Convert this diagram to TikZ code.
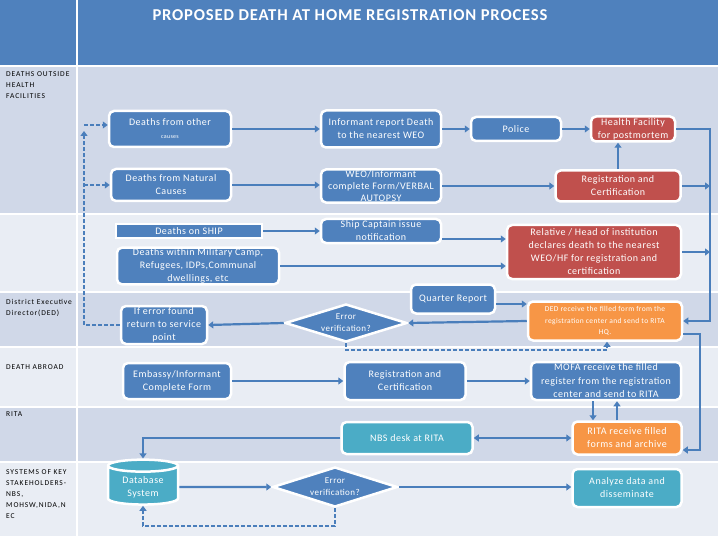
\documentclass[tikz,border=0pt]{standalone}
\usepackage{fontspec}
\setmainfont{Carlito}[LetterSpace=5]
\usetikzlibrary{arrows.meta,shapes.geometric}
\definecolor{hdrblue}{HTML}{4F81BD}
\definecolor{boxblue}{HTML}{4F81BD}
\definecolor{boxred}{HTML}{C0504D}
\definecolor{boxorange}{HTML}{F79646}
\definecolor{boxteal}{HTML}{4BACC6}
\definecolor{lanedark}{HTML}{D0D8E8}
\definecolor{lanelight}{HTML}{E9EDF4}
\definecolor{linkblue}{HTML}{4A7EBB}
\begin{document}
\begin{tikzpicture}[x=1pt, y=-1pt,
    >={Triangle[width=7pt,length=5pt]},
    box/.style={rectangle, rounded corners=5pt, draw=white, line width=2.5pt, fill=#1, text=white, align=center, inner sep=1pt, font=\fontsize{10}{13}\selectfont},
    box/.default=boxblue,
    decision/.style={diamond, aspect=3.2, draw=white, line width=2.5pt, fill=boxblue, text=white, align=center, inner sep=0pt, font=\fontsize{9}{12}\selectfont},
    lane/.style={font=\fontsize{7.5}{11}\selectfont\addfontfeatures{LetterSpace=12}, anchor=north west, align=left, inner sep=0pt},
    link/.style={draw=linkblue, line width=2.2pt, ->},
    back/.style={link, dash pattern=on 4pt off 2pt}
]
    \useasboundingbox (0,0) rectangle (720,540);
    \fill[white] (0,0) rectangle (720,540);

    % Capcalera
    \fill[hdrblue] (0,0) rectangle (76,65);
    \fill[hdrblue] (78,0) rectangle (718,65);
    \node[font=\bfseries\fontsize{16.6}{18}\selectfont, text=white] (title) at (350,15) {PROPOSED DEATH AT HOME REGISTRATION PROCESS};

    % Franges
    \foreach \top/\bot/\col in {67/213/lanedark, 215/291/lanelight, 293/346/lanedark, 348/406/lanelight, 408/461/lanedark, 463/536/lanelight} {
        \fill[\col] (0,\top) rectangle (76,\bot);
        \fill[\col] (78,\top) rectangle (718,\bot);
    }
    \node[lane] (lhome) at (6,71) {DEATHS OUTSIDE\\HEALTH\\FACILITIES};
    \node[lane] (lded) at (6,299) {District Executive\\Director(DED)};
    \node[lane] (labroad) at (6,364) {DEATH ABROAD};
    \node[lane] (lrita) at (6,411) {RITA};
    \node[lane] (lsys) at (6,469) {SYSTEMS OF KEY\\STAKEHOLDERS-\\NBS,\\MOHSW,NIDA,N\\EC};

    % Morts fora de centres
    \node[box, minimum width=122pt, minimum height=36pt] (other) at (170,129) {Deaths from other\\{\fontsize{6}{7}\selectfont causes}};
    \node[box, minimum width=120pt, minimum height=32pt] (natural) at (171,185) {Deaths from Natural\\Causes};
    \node[box, rounded corners=0pt, line width=2pt, minimum width=146pt, minimum height=13pt] (ship) at (189,231) {Deaths on SHIP};
    \node[box, minimum width=162pt, minimum height=35pt] (military) at (198,266) {Deaths within Military Camp,\\Refugees, IDPs,Communal\\dwellings, etc};
    \node[box, minimum width=120pt, minimum height=37pt] (informant) at (381,129) {Informant report Death\\to the nearest WEO};
    \node[box, minimum width=120pt, minimum height=33pt, font=\fontsize{10}{12}\selectfont] (weo) at (381,186) {WEO/Informant\\complete Form/VERBAL\\AUTOPSY};
    \node[box, minimum width=120pt, minimum height=24pt] (captain) at (381,231) {Ship Captain issue\\notification};
    \node[box, minimum width=90pt, minimum height=24pt] (police) at (516,129) {Police};
    \node[box=boxred, minimum width=84pt, minimum height=25pt] (hf) at (633,129) {Health Facility\\for postmortem};
    \node[box=boxred, minimum width=125pt, minimum height=31pt] (regred) at (618,186) {Registration and\\Certification};
    \node[box=boxred, minimum width=174pt, minimum height=54pt] (relative) at (594,252) {Relative / Head of institution\\declares death to the nearest\\WEO/HF for registration and\\certification};

    % DED
    \node[box, minimum width=84pt, minimum height=29pt] (quarter) at (453,299) {Quarter Report};
    \node[box=boxorange, minimum width=154pt, minimum height=39pt, font=\fontsize{7.5}{11.5}\selectfont] (ded) at (605,321) {DED receive the filled form from the\\registration center and send to RITA\\HQ.};
    \node[decision, minimum width=122pt, minimum height=38pt] (errded) at (346,323) {Error\\verification?};
    \node[box, minimum width=86pt, minimum height=38pt] (iferr) at (164,325) {If error found\\return to service\\point};

    % Morts a l'estranger
    \node[box, minimum width=108pt, minimum height=36pt] (embassy) at (177,381) {Embassy/Informant\\Complete Form};
    \node[box, minimum width=121pt, minimum height=38pt] (regblue) at (405,381) {Registration and\\Certification};
    \node[box, minimum width=150pt, minimum height=38pt, font=\fontsize{10}{13.5}\selectfont] (mofa) at (606,381) {MOFA receive the filled\\register from the registration\\center and send to RITA};

    % RITA
    \node[box=boxteal, minimum width=131pt, minimum height=32pt] (nbs) at (407,438) {NBS desk at RITA};
    \node[box=boxorange, minimum width=109pt, minimum height=33pt] (ritarec) at (627,438) {RITA receive filled\\forms and archive};

    % Sistemes
    \node[cylinder, shape border rotate=90, aspect=0.25, draw=white, line width=2.5pt, fill=boxteal, text=white, align=center, minimum width=70pt, minimum height=44pt, font=\fontsize{10}{13}\selectfont] (db) at (143,487) {Database\\System};
    \node[decision, minimum width=125pt, minimum height=40pt] (errsys) at (335,487) {Error\\verification?};
    \node[box=boxteal, minimum width=109pt, minimum height=38pt] (analyze) at (627,488) {Analyze data and\\disseminate};

    % Connexions
    \coordinate (bus) at (710,129);
    \coordinate (busded) at (700,335);
    \coordinate (ret) at (84,131);
    \coordinate (dedout) at ([yshift=-13pt]ded.east);
    \coordinate (ritain) at ([yshift=-12pt]ritarec.east);
    \draw[link] (other.east) -- (informant.west);
    \draw[link] (natural.east) -- (natural.east -| weo.west);
    \draw[link] (ship.east) -- (captain.west);
    \draw[link] (military.east) -- (military.east -| relative.west);
    \draw[link] (informant.east) -- (police.west);
    \draw[link] (police.east) -- (hf.west);
    \draw[link] (weo.east) -- (regred.west);
    \draw[link] (regred.north) -- (regred.north |- hf.south);
    \draw[link] ([yshift=-8pt]captain.east) -- ([yshift=-8pt]captain.east -| relative.west);
    \draw[link] (hf.east) -| (bus |- ded.east) -- (ded.east);
    \draw[link] (regred.east) -- (regred.east -| bus);
    \draw[link] (relative.east) -- (relative.east -| bus);
    \draw[link] (dedout) -| (busded |- ritain) -- (ritain);
    \draw[link] ([yshift=-5pt]quarter.east) -- ([yshift=-5pt]quarter.east -| ded.west);
    \draw[link] (ded.west) -- (errded.east);
    \draw[link] (errded.west) -- (iferr.east);
    \draw[back] (iferr.west) -- (iferr.west -| ret) -- (ret);
    \draw[back] ([yshift=4pt]other.west -| ret) -- ([yshift=4pt]other.west);
    \draw[back] (natural.west -| ret) -- (natural.west);
    \draw[back] (errded.south) -- ++(0,7) -| ([xshift=2pt]ded.south);
    \draw[link] (embassy.east) -- (regblue.west);
    \draw[link] (regblue.east) -- (mofa.west);
    \draw[link] ([xshift=-13pt]mofa.south) -- ([xshift=-13pt]mofa.south |- ritarec.north);
    \draw[link] ([xshift=11pt]mofa.south |- ritarec.north) -- ([xshift=11pt]mofa.south);
    \draw[link, <->] (nbs.east) -- (ritarec.west);
    \draw[link] (nbs.west) -| (db.north);
    \draw[link] (db.east) -- (errsys.west);
    \draw[link] (errsys.east) -- (errsys.east -| analyze.west);
    \draw[back] (errsys.south) -- ++(0,18) -| (db.south);
\end{tikzpicture}
\end{document}
